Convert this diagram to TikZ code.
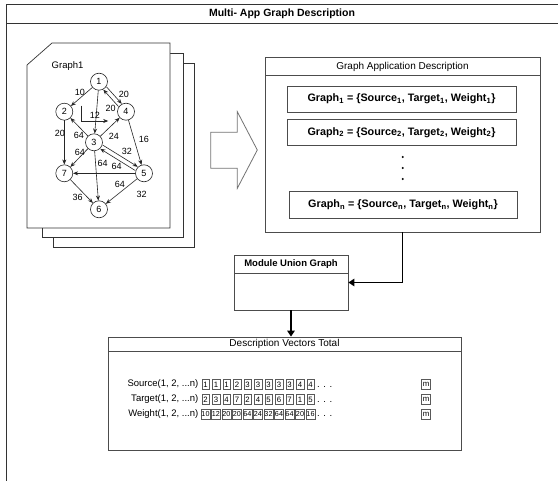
\documentclass[tikz,border=0pt]{standalone}
\usepackage{fontspec}
\setmainfont{Liberation Sans}
\usetikzlibrary{arrows.meta}
\newcommand\fsz[1]{\fontsize{#1}{#1}\selectfont}
\begin{document}
\begin{tikzpicture}[x=1pt,y=-1pt,
  frame/.style={draw=black!80,line width=0.8pt},
  box/.style={draw=black!70,line width=0.8pt,fill=white,inner sep=0pt},
  page/.style={draw=black!80,line width=0.7pt,fill=white},
  gnode/.style={circle,draw=black!85,line width=0.6pt,fill=white,minimum size=17pt,inner sep=0pt,font=\fsz{9}},
  elab/.style={inner sep=0pt,font=\fsz{9}},
  garrow/.style={draw=black!85,line width=0.6pt,-{Stealth[length=5pt,width=4pt]}},
  bigarrow/.style={draw=black,line width=1.8pt,-{Triangle[length=6pt,width=7.5pt]}},
  cell/.style={draw=black!65,line width=0.5pt,minimum width=7.5pt,minimum height=10pt,inner sep=0.5pt,font=\fsz{7.8}},
  wcell/.style={cell,inner sep=0.3pt,font=\fsz{7.2}},
  mcell/.style={cell,minimum width=9pt},
  rowlab/.style={inner sep=0pt,font=\fsz{9.5},anchor=east},
  dotslab/.style={inner sep=0pt,font=\fsz{9.5},anchor=west}]
\useasboundingbox (0,0) rectangle (558,481);
\clip (0,0) rectangle (558,481);
% outer frame
\draw[frame] (6,4) rectangle (575,500);
\draw[frame] (6,23) -- (575,23);
\node[inner sep=0pt,font=\fsz{10.5}\bfseries] (title) at (282,13.5) {Multi- App Graph Description};

% document stack
\draw[page] (53,63) rectangle (194,247);
\draw[page] (42,53) rectangle (183,237);
\draw[page] (52,43) -- (170,43) -- (170,228) -- (27,228) -- (27,65) -- cycle;
\node[inner sep=0pt,font=\fsz{9.5},anchor=west] (g1lab) at (51.5,65.7) {Graph1};

% graph nodes
\node[gnode] (n1) at (99,81.7) {1};
\node[gnode] (n2) at (64.3,111.7) {2};
\node[gnode] (n4) at (126,111.7) {4};
\node[gnode] (n3) at (94,142.3) {3};
\node[gnode] (n7) at (64.3,173.3) {7};
\node[gnode] (n5) at (144,173.3) {5};
\node[gnode] (n6) at (99,209.3) {6};

% graph edges
\draw[garrow] (n1) -- (n2);
\draw[garrow] (n1) -- (n3);
\draw[garrow,transform canvas={shift={(1.6pt,1.4pt)}}] (n1) -- (n4);
\draw[garrow,transform canvas={shift={(-1.6pt,-1.4pt)}}] (n4) -- (n1);
\draw[garrow] ([shift={(8,-6)}]n2.east) |- ([shift={(-9,9.3)}]n4.west);
\draw[garrow] (n3) -- (n2);
\draw[garrow] (n3) -- (n4);
\draw[garrow] (n4) -- (n5);
\draw[garrow] (n2) -- (n7);
\draw[garrow] (n3) -- (n7);
\draw[garrow,transform canvas={shift={(1.2pt,1.9pt)}}] (n3) -- (n5);
\draw[garrow,transform canvas={shift={(-1.2pt,-1.9pt)}}] (n5) -- (n3);
\draw[garrow] (n3) -- (n6);
\draw[garrow] (n5) -- (n7);
\draw[garrow] (n7) -- (n6);
\draw[garrow] (n5) -- (n6);

% edge labels
\node[elab] (l10) at (80,92.7) {10};
\node[elab] (l12) at (95,115) {12};
\node[elab] (l20a) at (124,94) {20};
\node[elab] (l20b) at (110.7,108) {20};
\node[elab] (l64a) at (79,135) {64};
\node[elab] (l24) at (114,136.7) {24};
\node[elab] (l16) at (144,139) {16};
\node[elab] (l20c) at (60,133) {20};
\node[elab] (l64b) at (80,152) {64};
\node[elab] (l32a) at (127,151.7) {32};
\node[elab] (l64c) at (102.7,163.3) {64};
\node[elab] (l64d) at (116.7,166.7) {64};
\node[elab] (l64e) at (120,184) {64};
\node[elab] (l36) at (77.7,197.3) {36};
\node[elab] (l32b) at (141.7,194) {32};

% hollow arrow
\draw[draw=black!55,line width=0.8pt,fill=white] (210.7,132.3) -- (237.3,132.3) -- (237.3,111.7) -- (257.3,150) -- (237.3,188.3) -- (237.3,168.3) -- (210.7,168.3) -- cycle;

% Graph Application Description
\node[box,minimum width=275pt,minimum height=175pt] (gad) at (402.5,144.5) {};
\draw[draw=black!70,line width=0.8pt] (265,75.5) -- (540,75.5);
\node[inner sep=0pt,font=\fsz{10}] (gadt) at (402.5,66.5) {Graph Application Description};
\node[box,minimum width=229pt,minimum height=26pt,font=\fsz{10.8}\bfseries] (gb1) at (401.5,99) {Graph\textsubscript{1} = \{Source\textsubscript{1}, Target\textsubscript{1}, Weight\textsubscript{1}\}};
\node[box,minimum width=229pt,minimum height=26.5pt,font=\fsz{10.8}\bfseries] (gb2) at (401.5,132.5) {Graph\textsubscript{2} = \{Source\textsubscript{2}, Target\textsubscript{2}, Weight\textsubscript{2}\}};
\node[box,minimum width=228pt,minimum height=26.5pt,font=\fsz{10.8}\bfseries] (gbn) at (403,205) {Graph\textsubscript{n} = \{Source\textsubscript{n}, Target\textsubscript{n}, Weight\textsubscript{n}\}};
\fill[black] (402.7,157) circle (1.1) (402.7,168) circle (1.1) (402.7,179) circle (1.1);

% Module Union Graph
\node[box,minimum width=114pt,minimum height=55pt] (mod) at (291,282.5) {};
\draw[draw=black!70,line width=0.8pt] (234,273.3) -- (348,273.3);
\node[inner sep=0pt,font=\fsz{9.5}\bfseries] (modt) at (291,264) {Module Union Graph};

% Description Vectors Total
\node[box,minimum width=353pt,minimum height=113pt] (desc) at (284.5,393.5) {};
\draw[draw=black!70,line width=0.8pt] (108,351) -- (461,351);
\node[inner sep=0pt,font=\fsz{10}] (desct) at (284.5,344) {Description Vectors Total};

% connectors
\draw[bigarrow] (gad.south) |- (mod.east);
\draw[bigarrow] (mod.south) -- (mod.south |- desc.north);

% vectors
\node[rowlab] (ls) at (198.5,384.5) {Source(1, 2, ...n)};
\node[rowlab] (lt) at (198.5,399.5) {Target(1, 2, ...n)};
\node[rowlab] (lw) at (198.5,414.3) {Weight(1, 2, ...n)};
\foreach \v [count=\i] in {1,1,1,2,3,3,3,3,3,4,4}
  \node[cell] (s\i) at ({195+10.5*\i},384.5) {\v};
\foreach \v [count=\i] in {2,3,4,7,2,4,5,6,7,1,5}
  \node[cell] (t\i) at ({195+10.5*\i},399.5) {\v};
\foreach \v [count=\i] in {10,12,20,20,64,24,32,64,64,20,16}
  \node[wcell] (w\i) at ({195+10.5*\i},414.3) {\v};
\node[dotslab] (ds) at (317,386.5) {. . .};
\node[dotslab] (dt) at (317,401.5) {. . .};
\node[dotslab] (dw) at (317,416.3) {. . .};
\node[mcell] (sm) at (426,384.5) {m};
\node[mcell] (tm) at (426,399.5) {m};
\node[mcell] (wm) at (426,414.3) {m};
\end{tikzpicture}
\end{document}
